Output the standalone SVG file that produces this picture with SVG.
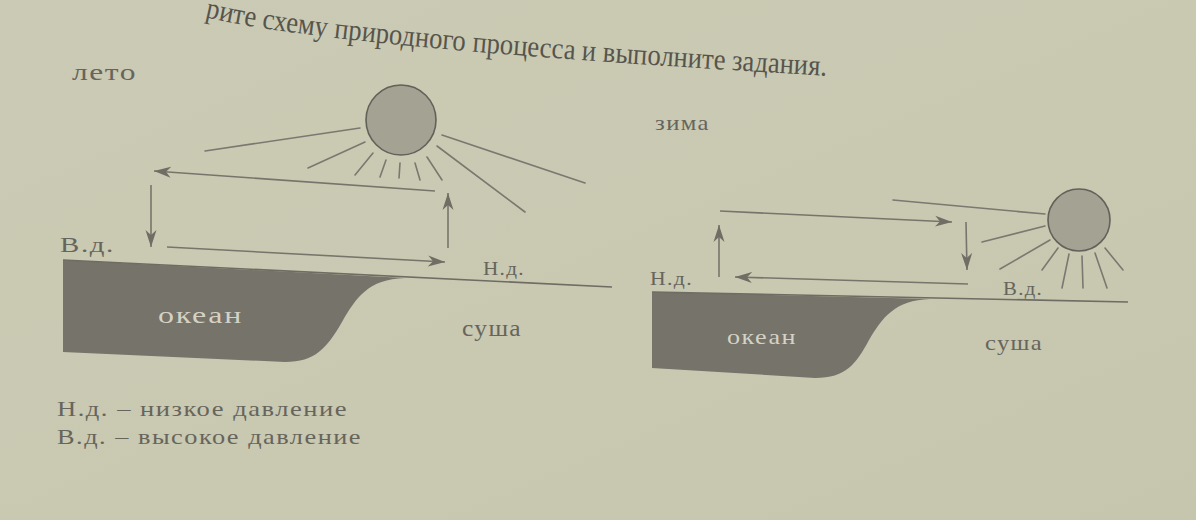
<svg xmlns="http://www.w3.org/2000/svg" width="1196" height="520" viewBox="0 0 1196 520">
  <style>
    .txt { font-family: "Liberation Serif", "DejaVu Serif", serif; fill: #66655c; letter-spacing: 1.2px; }
    .ray { stroke: #7a7870; stroke-width: 1.6; fill: none; stroke-linecap: round; }
    .conn { stroke: #77756b; stroke-width: 1.6; fill: none; }
    .ground { stroke: #6e6c63; stroke-width: 1.6; fill: none; }
    .ocean { fill: #75736a; }
    .sun { fill: #a4a293; stroke: #62615a; stroke-width: 1.6; }
    .oceanTxt { font-family: "Liberation Serif", "DejaVu Serif", serif; fill: #d4d2c4; letter-spacing: 1.2px; }
  </style>
  <defs>
    <linearGradient id="bg" x1="0" y1="0" x2="1" y2="1">
      <stop offset="0" stop-color="#cbcab4"/>
      <stop offset="0.6" stop-color="#c9c8b1"/>
      <stop offset="1" stop-color="#c6c5ae"/>
    </linearGradient>
    <marker id="ah" markerUnits="userSpaceOnUse" markerWidth="20" markerHeight="14" refX="17" refY="7" orient="auto">
      <path d="M0,1.5 L17,7 L0,12.5 L5,7 Z" fill="#6f6d64"/>
    </marker>
    <path id="hdr" d="M205,17 C300,40 520,58 830,76"/>
  </defs>

  <rect x="0" y="0" width="1196" height="520" fill="url(#bg)"/>

  <g id="header">
    <text font-family="Liberation Serif, DejaVu Serif, serif" font-size="30" fill="#56554d"><textPath href="#hdr" textLength="625" lengthAdjust="spacingAndGlyphs">рите схему природного процесса и выполните задания.</textPath></text>
  </g>

  <!-- Summer -->
  <g id="summer-title"><text class="txt" x="72" y="80" font-size="24" textLength="65" lengthAdjust="spacingAndGlyphs">лето</text></g>

  <g id="summer-sun">
    <line class="ray" x1="205" y1="151" x2="360" y2="128"/>
    <line class="ray" x1="308" y1="168" x2="365" y2="142"/>
    <line class="ray" x1="355" y1="175" x2="373" y2="153"/>
    <line class="ray" x1="380" y1="177" x2="386" y2="160"/>
    <line class="ray" x1="399" y1="178" x2="400" y2="163"/>
    <line class="ray" x1="420" y1="180" x2="415" y2="163"/>
    <line class="ray" x1="442" y1="180" x2="427" y2="157"/>
    <line class="ray" x1="525" y1="212" x2="437" y2="146"/>
    <line class="ray" x1="585" y1="183" x2="442" y2="135"/>
    <ellipse class="sun" cx="401" cy="120" rx="35" ry="35"/>
  </g>

  <g id="summer-ocean">
    <path class="ocean" d="M63,260 L405,278 C368,279 356,298 342,322 C327,348 315,362 285,362 L63,352 Z"/>
    <text class="oceanTxt" x="158" y="323" font-size="23" textLength="85" lengthAdjust="spacingAndGlyphs">океан</text>
  </g>
  <g id="summer-ground"><line class="ground" x1="63" y1="260" x2="612" y2="287"/></g>
  <g id="summer-land"><text class="txt" x="462" y="336" font-size="23" textLength="60" lengthAdjust="spacingAndGlyphs">суша</text></g>
  <g id="summer-high"><text class="txt" x="60" y="252" font-size="21" textLength="55" lengthAdjust="spacingAndGlyphs">В.д.</text></g>
  <g id="summer-low"><text class="txt" x="483" y="275" font-size="19" textLength="42" lengthAdjust="spacingAndGlyphs">Н.д.</text></g>

  <!-- Winter -->
  <g id="winter-title"><text class="txt" x="655" y="130" font-size="21" textLength="55" lengthAdjust="spacingAndGlyphs">зима</text></g>

  <g id="winter-sun">
    <line class="ray" x1="893" y1="200" x2="1045" y2="214"/>
    <line class="ray" x1="982" y1="242" x2="1045" y2="226"/>
    <line class="ray" x1="1000" y1="269" x2="1050" y2="240"/>
    <line class="ray" x1="1042" y1="270" x2="1058" y2="248"/>
    <line class="ray" x1="1062" y1="288" x2="1069" y2="254"/>
    <line class="ray" x1="1083" y1="288" x2="1082" y2="256"/>
    <line class="ray" x1="1107" y1="288" x2="1095" y2="253"/>
    <line class="ray" x1="1123" y1="270" x2="1105" y2="248"/>
    <ellipse class="sun" cx="1079" cy="220" rx="31" ry="31"/>
  </g>

  <g id="winter-ocean">
    <path class="ocean" d="M652,292 L930,299 C895,300 882,318 869,340 C856,364 846,378 815,378 L652,368 Z"/>
    <text class="oceanTxt" x="727" y="344" font-size="21" textLength="70" lengthAdjust="spacingAndGlyphs">океан</text>
  </g>
  <g id="winter-ground"><line class="ground" x1="652" y1="292" x2="1128" y2="302"/></g>
  <g id="winter-land"><text class="txt" x="985" y="350" font-size="22" textLength="58" lengthAdjust="spacingAndGlyphs">суша</text></g>
  <g id="winter-low"><text class="txt" x="650" y="285" font-size="19" textLength="43" lengthAdjust="spacingAndGlyphs">Н.д.</text></g>
  <g id="winter-high"><text class="txt" x="1003" y="295" font-size="19" textLength="40" lengthAdjust="spacingAndGlyphs">В.д.</text></g>

  <g id="connectors">
    <line class="conn" x1="435" y1="191" x2="154" y2="171" marker-end="url(#ah)"/>
    <line class="conn" x1="151" y1="185" x2="151" y2="247" marker-end="url(#ah)"/>
    <line class="conn" x1="167" y1="247" x2="445" y2="262" marker-end="url(#ah)"/>
    <line class="conn" x1="448" y1="248" x2="448" y2="193" marker-end="url(#ah)"/>
    <line class="conn" x1="720" y1="211" x2="952" y2="222" marker-end="url(#ah)"/>
    <line class="conn" x1="966" y1="222" x2="967" y2="270" marker-end="url(#ah)"/>
    <line class="conn" x1="968" y1="284" x2="735" y2="277" marker-end="url(#ah)"/>
    <line class="conn" x1="719" y1="277" x2="719" y2="225" marker-end="url(#ah)"/>
  </g>

  <g id="legend">
    <text class="txt" x="57" y="416" font-size="21" textLength="291" lengthAdjust="spacingAndGlyphs">Н.д. – низкое давление</text>
    <text class="txt" x="57" y="444" font-size="21" textLength="305" lengthAdjust="spacingAndGlyphs">В.д. – высокое давление</text>
  </g>
</svg>
